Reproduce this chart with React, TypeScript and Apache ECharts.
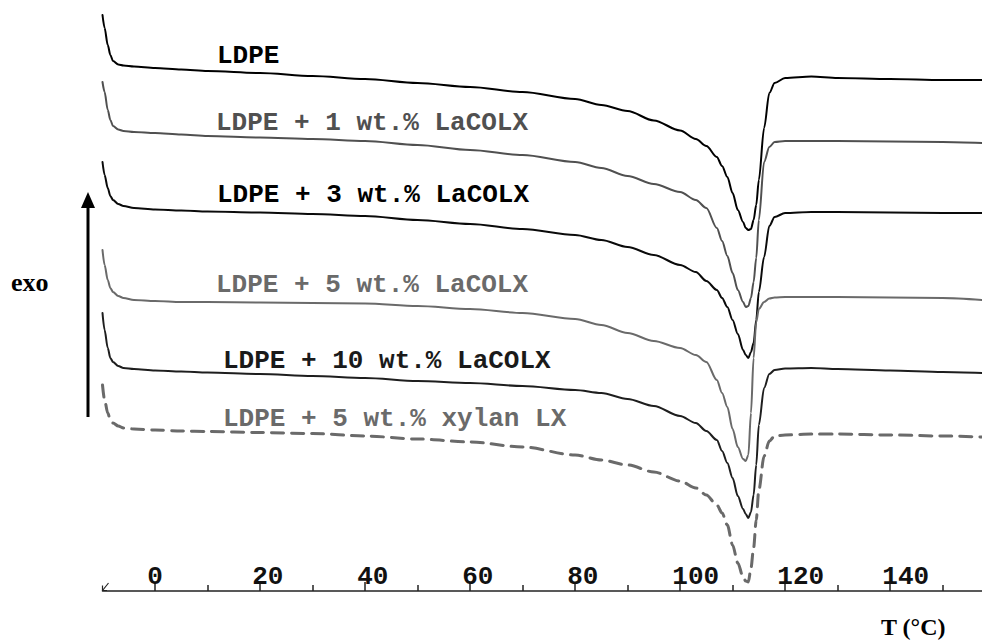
import React, { useEffect, useRef } from "react";
import * as echarts from "echarts";

// Temperature (°C) sampling points shared by all thermograms
const temperatures = [
  -10, -9.6, -9, -8.5, -8, -7, -6, -4,
  0, 5, 10, 20, 30, 40, 50, 60, 70, 80,
  85, 90, 95, 100, 103, 105, 107, 108, 109, 110,
  111, 112, 112.5, 113, 113.5, 114, 114.5, 115, 116, 117,
  118, 120, 125, 130, 140, 150, 157.5,
];

// Heat-flow signals (arbitrary units, endotherm pointing down, stacked offsets)
const ldpe = [
  15, 28, 45, 55, 61, 64.5, 65.5, 66.5,
  68, 69.5, 71, 73, 76, 79, 83, 87, 92, 99,
  105, 111, 120.5, 130.5, 139, 146, 157, 166, 177, 193,
  210, 222, 228, 230, 229, 220, 205, 180, 128, 93,
  83, 78, 76.5, 78, 79, 80, 80,
];
const ldpe1 = [
  82, 92, 110, 120, 126, 129.5, 131, 132,
  133, 134.5, 136, 137.5, 139, 141, 145, 150, 155, 162,
  168, 176, 184, 192, 200, 208, 228, 241, 256, 273,
  290, 302, 307, 306, 298, 282, 258, 220, 162, 147,
  142, 141, 141, 141, 141.5, 142, 143,
];
const ldpe3 = [
  162, 175, 188, 196, 200, 204, 206, 208,
  209.5, 210.5, 211.5, 212.5, 214, 216, 220, 224, 229, 235,
  240, 247, 255, 265, 272, 281, 290, 298, 307, 320,
  334, 350, 355, 358, 352, 343, 320, 292, 257, 226,
  217, 213, 212, 212, 212.5, 213, 213,
];
const ldpe5 = [
  250, 265, 280, 288, 292, 296, 298, 300,
  301, 302, 302, 302.5, 303, 303.5, 306, 309, 313, 319,
  325, 333, 341, 348, 355, 362, 380, 393, 407, 429,
  447, 459, 461, 455, 413, 358, 322, 309, 302, 298.5,
  297.5, 297, 297, 297, 297.5, 298, 300,
];
const ldpe10 = [
  313, 330, 348, 358, 362, 366, 368, 369,
  370.5, 371.5, 372.5, 374, 376, 378, 381, 383, 386, 390,
  393, 399, 406, 416, 423, 431, 440, 451, 463, 478,
  496, 509, 514, 518, 512, 495, 465, 425, 388, 374,
  370, 368.5, 368, 369, 370.5, 372, 373,
];
const ldpeXylan = [
  385, 400, 413, 420, 423, 426, 428, 429,
  430, 431, 431.5, 432.5, 433.5, 436, 439, 442, 447, 455,
  460, 465, 472, 481, 488, 495, 505, 513, 525, 545,
  563, 577, 581, 582, 568, 548, 520, 490, 456, 441,
  436, 435, 434, 434, 435, 436, 437,
];

const seriesNames = [
  "LDPE",
  "LDPE + 1 wt.% LaCOLX",
  "LDPE + 3 wt.% LaCOLX",
  "LDPE + 5 wt.% LaCOLX",
  "LDPE + 10 wt.% LaCOLX",
  "LDPE + 5 wt.% xylan LX",
];

const majorTicks = [0, 20, 40, 60, 80, 100, 120, 140];
const minorTicks = [10, 30, 50, 70, 90, 110, 130, 150];

const MONO = "'Liberation Mono', 'Courier New', monospace";
const SERIF = "'Liberation Serif', 'Times New Roman', serif";
const FS = 26;

export default function App() {
  const ref = useRef<HTMLDivElement>(null);

  useEffect(() => {
    const chart = echarts.init(ref.current!, null, { renderer: "svg" });
    const pair = (arr: number[]) => temperatures.map((t, i) => [t, arr[i]]);
    const mk = (name: string, arr: number[], color: string, width: number, type: any = "solid") => ({
      type: "line",
      name,
      data: pair(arr),
      symbol: "none",
      showSymbol: false,
      smooth: 0.3,
      smoothMonotone: "x",
      clip: false,
      silent: true,
      lineStyle: { color, width, type, cap: "round", join: "round" },
    });

    const labelStyle = (color: string) => ({
      font: `bold ${FS}px ${MONO}`,
      fill: color,
      align: "left",
      verticalAlign: "middle",
      textAlign: "left",
      textVerticalAlign: "middle",
    });

    const charW = FS * 0.6;
    const richBase = { fontFamily: MONO, fontSize: FS, fontWeight: "bold", color: "#111" };

    chart.setOption({
      animation: false,
      backgroundColor: "#fff",
      grid: { left: 102.5, right: 0, top: 0, bottom: 50 },
      xAxis: [
        {
          type: "value",
          min: -10,
          max: 157.5,
          position: "bottom",
          axisLine: { show: true, onZero: false, lineStyle: { color: "#222", width: 1.5 } },
          axisTick: {
            show: true,
            inside: true,
            length: 9,
            customValues: majorTicks,
            lineStyle: { color: "#222", width: 1.5 },
          },
          axisLabel: {
            show: true,
            inside: true,
            margin: 1,
            customValues: majorTicks,
            formatter: (v: number) => {
              const s = String(v);
              return `{n${s.length}|${s}}`;
            },
            rich: {
              n1: { ...richBase },
              n2: { ...richBase, padding: [0, 0, 0, charW] },
              n3: { ...richBase, padding: [0, 0, 0, charW * 2] },
            },
          },
          splitLine: { show: false },
        },
        {
          type: "value",
          min: -10,
          max: 157.5,
          position: "bottom",
          axisLine: { show: false, onZero: false },
          axisTick: {
            show: true,
            inside: true,
            length: 6,
            customValues: minorTicks,
            lineStyle: { color: "#222", width: 1.5 },
          },
          axisLabel: { show: false },
          splitLine: { show: false },
        },
      ],
      yAxis: { type: "value", min: 0, max: 591, inverse: true, show: false },
      series: [
        mk(seriesNames[0], ldpe, "#000000", 2),
        mk(seriesNames[1], ldpe1, "#505050", 2),
        mk(seriesNames[2], ldpe3, "#0a0a0a", 2),
        mk(seriesNames[3], ldpe5, "#6a6a6a", 2),
        mk(seriesNames[4], ldpe10, "#1e1e1e", 2),
        mk(seriesNames[5], ldpeXylan, "#6a6a6a", 3, [12, 8]),
      ],
      graphic: [
        { type: "text", x: 217, y: 56, silent: true, style: { text: seriesNames[0], ...labelStyle("#000") } },
        { type: "text", x: 216, y: 123, silent: true, style: { text: seriesNames[1], ...labelStyle("#505050") } },
        { type: "text", x: 217, y: 195, silent: true, style: { text: seriesNames[2], ...labelStyle("#000") } },
        { type: "text", x: 216, y: 285, silent: true, style: { text: seriesNames[3], ...labelStyle("#6a6a6a") } },
        { type: "text", x: 223, y: 361, silent: true, style: { text: seriesNames[4], ...labelStyle("#1a1a1a") } },
        { type: "text", x: 223, y: 419, silent: true, style: { text: seriesNames[5], ...labelStyle("#6a6a6a") } },
        // exo arrow
        { type: "line", silent: true, shape: { x1: 88, y1: 417, x2: 88, y2: 205 }, style: { stroke: "#000", lineWidth: 3 } },
        { type: "polygon", silent: true, shape: { points: [[81, 208], [95, 208], [88, 192]] }, style: { fill: "#000" } },
        {
          type: "text", x: 11, y: 282, silent: true,
          style: { text: "exo", font: `bold 26px ${SERIF}`, fill: "#000", align: "left", verticalAlign: "middle", textAlign: "left", textVerticalAlign: "middle" },
        },
        {
          type: "text", x: 881, y: 627, silent: true,
          style: { text: "T (°C)", font: `bold 24px ${SERIF}`, fill: "#000", align: "left", verticalAlign: "middle", textAlign: "left", textVerticalAlign: "middle" },
        },
        // small mark at axis origin
        { type: "polyline", silent: true, shape: { points: [[108.5, 583], [102.5, 590.5]] }, style: { stroke: "#222", lineWidth: 1.2, fill: null } },
        { type: "polyline", silent: true, shape: { points: [[102.5, 585.5], [102.5, 590.5], [107, 590.5]] }, style: { stroke: "#222", lineWidth: 1.2, fill: null } },
      ],
    });

    return () => chart.dispose();
  }, []);

  return (
    <div
      ref={ref}
      style={{ position: "fixed", left: 0, top: 0, width: 982, height: 641, background: "#fff" }}
    />
  );
}
